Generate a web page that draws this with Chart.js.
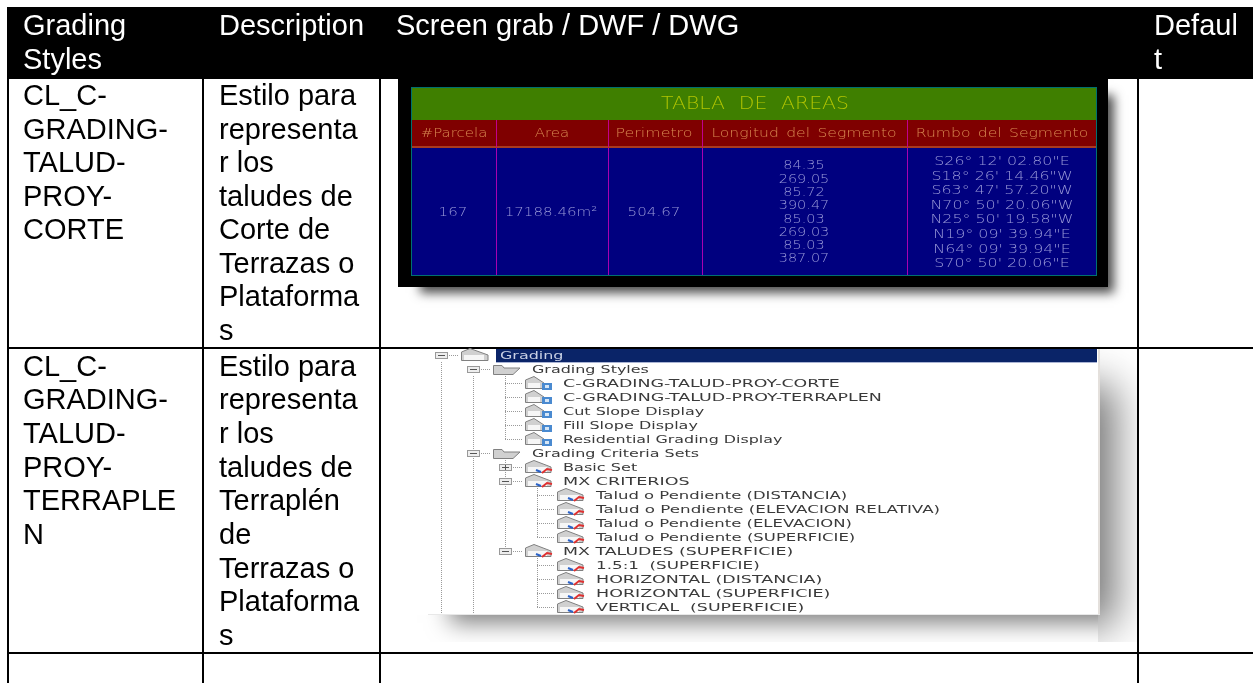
<!DOCTYPE html>
<html>
<head>
<meta charset="utf-8">
<title>Grading Styles</title>
<script src="https://cdn.jsdelivr.net/npm/chart.js@4"></script>
<style>
  html, body { margin: 0; padding: 0; background: #fff; overflow: hidden; }
  canvas { display: block; }
</style>
</head>
<body>
<canvas id="table-chart" width="1253" height="683"></canvas>
<script>
// table text
const headGrading = ["Grading", "Styles"];
const headDescription = ["Description"];
const headScreen = ["Screen grab / DWF / DWG"];
const headDefault = ["Defaul", "t"];
const rowOneName = ["CL_C-", "GRADING-", "TALUD-", "PROY-", "CORTE"];
const rowOneDesc = ["Estilo para", "representa", "r los", "taludes de", "Corte de", "Terrazas o", "Plataforma", "s"];
const rowTwoName = ["CL_C-", "GRADING-", "TALUD-", "PROY-", "TERRAPLE", "N"];
const rowTwoDesc = ["Estilo para", "representa", "r los", "taludes de", "Terraplén", "de", "Terrazas o", "Plataforma", "s"];

// areas table in the first screen grab
const cadTitle = "TABLA DE AREAS";
const cadHeaders = ["#Parcela", "Area", "Perimetro", "Longitud del Segmento", "Rumbo del Segmento"];
const cadParcel = ["167", "17188.46m²", "504.67"];
const cadLengths = ["84.35", "269.05", "85.72", "390.47", "85.03", "269.03", "85.03", "387.07"];
const cadBearings = [
  "S26° 12' 02.80\"E", "S18° 26' 14.46\"W", "S63° 47' 57.20\"W", "N70° 50' 20.06\"W",
  "N25° 50' 19.58\"W", "N19° 09' 39.94\"E", "N64° 09' 39.94\"E", "S70° 50' 20.06\"E",
];

// tree in the second screen grab
const treeLabels = [
  "Grading", "Grading Styles", "C-GRADING-TALUD-PROY-CORTE", "C-GRADING-TALUD-PROY-TERRAPLEN",
  "Cut Slope Display", "Fill Slope Display", "Residential Grading Display", "Grading Criteria Sets",
  "Basic Set", "MX CRITERIOS", "Talud o Pendiente (DISTANCIA)", "Talud o Pendiente (ELEVACION RELATIVA)",
  "Talud o Pendiente (ELEVACION)", "Talud o Pendiente (SUPERFICIE)", "MX TALUDES (SUPERFICIE)",
  "1.5:1  (SUPERFICIE)", "HORIZONTAL (DISTANCIA)", "HORIZONTAL (SUPERFICIE)", "VERTICAL  (SUPERFICIE)",
];
const treeLevels = [0, 1, 2, 2, 2, 2, 2, 1, 2, 2, 3, 3, 3, 3, 2, 3, 3, 3, 3];
const treeKinds = ["root", "folder", "style", "style", "style", "style", "style", "folder", "crit", "crit", "crit", "crit", "crit", "crit", "crit", "crit", "crit", "crit", "crit"];
const treeBoxes = ["-", "-", "", "", "", "", "", "-", "+", "-", "", "", "", "", "-", "", "", "", ""];

// table rules, in page units
const columnEdges = [8, 203, 380, 1138];
const rowEdges = [78, 348, 653];

const W = 1253;
const H = 683;
const bodyFont = '29px "Liberation Sans"';
const cadFont = '200 13px "DejaVu Sans"';

const gridLines = [];
columnEdges.forEach((x) => {
  gridLines.push([{ x: x, y: 78 }, { x: x, y: H }]);
});
rowEdges.forEach((y) => {
  gridLines.push([{ x: 8, y: y }, { x: W, y: y }]);
});

let sx, sy;

function rect(ctx, x0, y0, x1, y1, color) {
  ctx.fillStyle = color;
  ctx.fillRect(sx(x0), sy(y0), sx(x1) - sx(x0), sy(y1) - sy(y0));
}

function lines(ctx, list, x, y, step, color) {
  ctx.font = bodyFont;
  ctx.fillStyle = color;
  ctx.textAlign = "left";
  ctx.textBaseline = "alphabetic";
  list.forEach((t, i) => ctx.fillText(t, sx(x), sy(y + i * step)));
}

// stretched raster-looking label, the grabs are scaled up bitmaps
function wide(ctx, t, x, y, font, scale, color, align, gap) {
  ctx.save();
  ctx.translate(sx(x), sy(y));
  ctx.scale(scale, 1);
  ctx.font = font;
  ctx.wordSpacing = (gap || 0) + "px";
  ctx.fillStyle = color;
  ctx.textAlign = align;
  ctx.textBaseline = "middle";
  ctx.fillText(t, 0, 0);
  ctx.restore();
}

// shadow only: the box itself is painted off the canvas
function softShadow(ctx, box, blur, alpha, clip) {
  ctx.save();
  ctx.beginPath();
  ctx.rect(sx(clip[0]), sy(clip[1]), sx(clip[2]) - sx(clip[0]), sy(clip[3]) - sy(clip[1]));
  ctx.clip();
  ctx.shadowColor = "rgba(0,0,0," + alpha + ")";
  ctx.shadowBlur = blur;
  ctx.shadowOffsetX = 4000;
  rect(ctx, box[0] - 4000, box[1], box[2] - 4000, box[3], "#000");
  ctx.restore();
}

function drawCad(ctx) {
  rect(ctx, 398, 78, 1108, 287, "#000");
  rect(ctx, 411, 87, 1097, 276, "#007070");
  rect(ctx, 412, 88, 1096, 120, "#3f7f00");
  rect(ctx, 412, 120, 1096, 147, "#7f0000");
  rect(ctx, 412, 148, 1096, 275, "#00007f");
  rect(ctx, 412, 146, 1096, 148, "#a83a20");
  [496, 608, 702, 907].forEach((x) => {
    rect(ctx, x, 120, x + 1, 147, "#c0008f");
    rect(ctx, x, 148, x + 1, 275, "#a800b0");
  });

  ctx.save();
  ctx.filter = "blur(0.35px)";
  wide(ctx, cadTitle, 755, 105, '200 17px "DejaVu Sans"', 1.2, "#b0c400", "center", 6);
  const headX = [454, 552, 654, 804, 1002];
  const headScale = [1.15, 1.15, 1.22, 1.2, 1.2];
  cadHeaders.forEach((t, i) => wide(ctx, t, headX[i], 134, cadFont, headScale[i], "#d88850", "center", 2));
  const parcelX = [453, 551, 654];
  cadParcel.forEach((t, i) => wide(ctx, t, parcelX[i], 213, cadFont, 1.16, "#9898d8", "center"));
  cadLengths.forEach((t, i) => wide(ctx, t, 804, 166 + i * 13.3, cadFont, 1.11, "#9898d8", "center"));
  cadBearings.forEach((t, i) => wide(ctx, t, 1002, 161.7 + i * 14.6, cadFont, 1.22, "#9898d8", "center"));
  ctx.restore();
}

function treeIcon(ctx, kind, x, y) {
  ctx.save();
  ctx.translate(sx(x), Math.round(sy(y)));
  ctx.strokeStyle = "#808080";
  ctx.fillStyle = "#d0d0d0";
  ctx.lineWidth = 1;
  if (kind === "folder") {
    ctx.beginPath();
    ctx.moveTo(0.5, 5.5);
    ctx.lineTo(0.5, -3.5);
    ctx.lineTo(9, -3.5);
    ctx.lineTo(11, -1);
    ctx.lineTo(27, -1);
    ctx.lineTo(20, 5.5);
    ctx.closePath();
    ctx.fill();
    ctx.stroke();
  } else {
    const w = kind === "root" ? 27 : kind === "style" ? 19 : 26;
    ctx.beginPath();
    ctx.moveTo(0.5, 5.5);
    ctx.lineTo(0.5, -3);
    ctx.lineTo(9, -6.5);
    ctx.lineTo(w, 0);
    ctx.lineTo(w, 5.5);
    ctx.closePath();
    ctx.fill();
    ctx.stroke();
    ctx.fillStyle = "#f6f6f6";
    ctx.fillRect(3, 0, w - 7, 5);
    if (kind === "style") {
      ctx.fillStyle = "#4a8ad0";
      ctx.fillRect(17, 0, 10, 7);
      ctx.fillStyle = "#d6e6f6";
      ctx.fillRect(20, 2, 4, 3);
    }
    if (kind === "crit") {
      ctx.lineWidth = 2;
      ctx.strokeStyle = "#2a62c8";
      ctx.beginPath();
      ctx.moveTo(11, 3);
      ctx.lineTo(16, 5);
      ctx.stroke();
      ctx.strokeStyle = "#e03030";
      ctx.beginPath();
      ctx.moveTo(17, 6);
      ctx.lineTo(22, 2);
      ctx.lineTo(27, 3);
      ctx.stroke();
    }
  }
  ctx.restore();
}

// caps are wider than lower case in the grab
function treeScale(t) {
  const caps = t.replace(/[^A-Z]/g, "").length;
  return 1.49 + 0.2 * caps / t.length;
}

function drawTree(ctx) {
  rect(ctx, 428, 349, 1098, 614, "#fff");
  rect(ctx, 1098, 349, 1100, 614, "#e4e0dc");
  rect(ctx, 428, 614, 1100, 615, "#e8e8e8");
  rect(ctx, 496, 349, 1097, 362, "#0a2468");
  rect(ctx, 496, 362, 1097, 363, "#aab4d4");

  const boxX = [441, 473, 505, 537];
  const iconX = [461, 493, 525, 557];
  const textX = [500, 532, 563, 596];
  const rowY = (i) => 355.5 + i * 13.97;

  ctx.save();
  ctx.strokeStyle = "#9a9a9a";
  ctx.lineWidth = 1;
  ctx.setLineDash([1, 1]);
  [[441, 362, 614], [473, 376, 614], [505, 376, rowY(6)], [505, 460, rowY(14)], [537, 488, rowY(13)], [537, 558, rowY(18)]].forEach((g) => {
    ctx.beginPath();
    ctx.moveTo(sx(g[0]) + 0.5, sy(g[1]));
    ctx.lineTo(sx(g[0]) + 0.5, sy(g[2]));
    ctx.stroke();
  });
  treeLabels.forEach((t, i) => {
    const lv = treeLevels[i];
    ctx.beginPath();
    ctx.moveTo(sx(boxX[lv]), Math.round(sy(rowY(i))) + 0.5);
    ctx.lineTo(sx(iconX[lv]) - 2, Math.round(sy(rowY(i))) + 0.5);
    ctx.stroke();
  });
  ctx.setLineDash([]);
  treeLabels.forEach((t, i) => {
    if (!treeBoxes[i]) return;
    const lv = treeLevels[i];
    const bx = sx(boxX[lv]);
    const by = Math.round(sy(rowY(i)));
    ctx.fillStyle = "#eee";
    ctx.strokeStyle = "#999";
    ctx.fillRect(bx - 6, by - 3, 13, 7);
    ctx.strokeRect(bx - 5.5, by - 2.5, 12, 6);
    ctx.strokeStyle = "#555";
    ctx.beginPath();
    ctx.moveTo(bx - 3, by + 0.5);
    ctx.lineTo(bx + 4, by + 0.5);
    if (treeBoxes[i] === "+") {
      ctx.moveTo(bx + 0.5, by - 2);
      ctx.lineTo(bx + 0.5, by + 3);
    }
    ctx.stroke();
  });
  ctx.restore();

  ctx.save();
  ctx.filter = "blur(0.4px)";
  treeLabels.forEach((t, i) => {
    const lv = treeLevels[i];
    treeIcon(ctx, treeKinds[i], iconX[lv], rowY(i));
    const color = i === 0 ? "#c8d0e4" : "#3a3a3a";
    wide(ctx, t, textX[lv], rowY(i) + 1, '10.5px "DejaVu Sans"', treeScale(t), color, "left");
  });
  ctx.restore();
}

const tablePlugin = {
  id: "tablePlugin",
  beforeDatasetsDraw(chart) {
    const ctx = chart.ctx;
    sx = (v) => chart.scales.x.getPixelForValue(v);
    sy = (v) => chart.scales.y.getPixelForValue(v);
    rect(ctx, 7, 7, W, 78, "#000");
    softShadow(ctx, [420, 95, 1114, 293], 10, 0.7, [381, 79, 1137, 346]);
    softShadow(ctx, [500, 385, 1115, 626], 40, 0.55, [1098, 349, 1137, 642]);
    softShadow(ctx, [450, 400, 1120, 623], 22, 0.5, [381, 615, 1098, 642]);
  },
  afterDatasetsDraw(chart) {
    const ctx = chart.ctx;
    drawCad(ctx);
    drawTree(ctx);
    lines(ctx, headGrading, 23, 35, 33.6, "#fff");
    lines(ctx, headDescription, 219, 35, 33.6, "#fff");
    lines(ctx, headScreen, 396, 35, 33.6, "#fff");
    lines(ctx, headDefault, 1154, 35, 33.6, "#fff");
    lines(ctx, rowOneName, 23, 105, 33.5, "#000");
    lines(ctx, rowOneDesc, 219, 105, 33.5, "#000");
    lines(ctx, rowTwoName, 23, 375.7, 33.66, "#000");
    lines(ctx, rowTwoDesc, 219, 375.7, 33.66, "#000");
  },
};

new Chart(document.getElementById("table-chart"), {
  type: "scatter",
  data: {
    datasets: gridLines.map((pts) => ({
      data: pts,
      showLine: true,
      borderColor: "#000",
      borderWidth: 2,
      pointRadius: 0,
    })),
  },
  options: {
    responsive: false,
    animation: false,
    layout: { padding: 0 },
    plugins: { legend: { display: false }, tooltip: { enabled: false }, title: { display: false } },
    scales: {
      x: { type: "linear", min: 0, max: W, display: false },
      y: { type: "linear", min: 0, max: H, reverse: true, display: false },
    },
  },
  plugins: [tablePlugin],
});
</script>
</body>
</html>
